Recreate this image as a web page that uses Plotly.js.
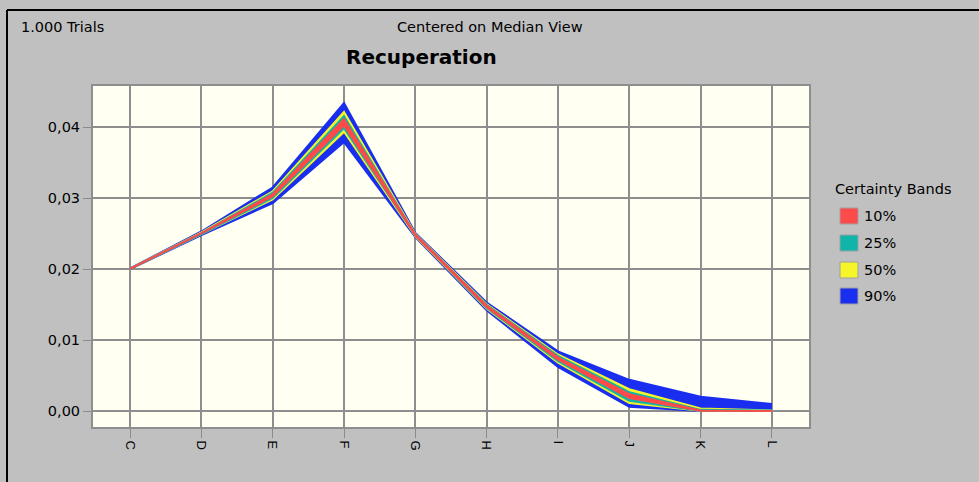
<!DOCTYPE html>
<html>
<head>
<meta charset="utf-8">
<script src="https://cdn.plot.ly/plotly-3.0.1.min.js"></script>
<style>
html,body{margin:0;padding:0;background:#c0c0c0;}
#chart{width:979px;height:482px;}
</style>
</head>
<body>
<div id="chart"></div>
<script>
// Categories (x tick labels, truncated in the original)
var categories = ["C", "D", "E", "F", "G", "H", "I", "J", "K", "L"];
// Certainty band bounds (lower / upper) per category
var band90Low  = [0.0200, 0.0248, 0.0293, 0.0379, 0.0245, 0.0142, 0.0062, 0.0006, 0.0000, 0.0000];
var band90High = [0.0201, 0.0253, 0.0315, 0.0434, 0.0251, 0.0153, 0.0084, 0.0044, 0.0020, 0.0010];
var band50Low  = [0.0200, 0.0249, 0.0298, 0.0393, 0.0246, 0.0144, 0.0068, 0.0011, 0.0000, 0.0000];
var band50High = [0.0201, 0.0252, 0.0310, 0.0422, 0.0250, 0.0151, 0.0080, 0.0031, 0.0004, 0.0001];
var band25Low  = [0.0200, 0.0249, 0.0300, 0.0398, 0.0247, 0.0145, 0.0070, 0.0014, 0.0000, 0.0000];
var band25High = [0.0201, 0.0251, 0.0308, 0.0416, 0.0249, 0.0150, 0.0078, 0.0027, 0.0002, 0.0001];
var band10Low  = [0.0200, 0.0250, 0.0302, 0.0402, 0.0247, 0.0146, 0.0072, 0.0018, 0.0000, 0.0000];
var band10High = [0.0201, 0.0251, 0.0306, 0.0412, 0.0249, 0.0149, 0.0076, 0.0024, 0.0001, 0.0000];
var bandNames = ["10%", "25%", "50%", "90%"];
var bandColors = ["#ff4a4a", "#0fb5a8", "#f5f52a", "#1a2ef0"];
var legendTitle = "Certainty Bands";

var xIdx = categories.map(function(c, i){ return i; });

function bandPair(low, high, color, w) {
  return [
    {x: xIdx, y: low, type: "scatter", mode: "lines",
     line: {color: color, width: w}, showlegend: false, hoverinfo: "skip"},
    {x: xIdx, y: high, type: "scatter", mode: "lines", fill: "tonexty",
     fillcolor: color, line: {color: color, width: w}, showlegend: false, hoverinfo: "skip"}
  ];
}

var traces = [];
traces = traces.concat(bandPair(band90Low, band90High, bandColors[3], 2));
traces = traces.concat(bandPair(band50Low, band50High, bandColors[2], 1.5));
traces = traces.concat(bandPair(band25Low, band25High, bandColors[1], 1.5));
traces = traces.concat(bandPair(band10Low, band10High, bandColors[0], 1.5));

var fontFam = "DejaVu Sans, Liberation Sans, Arial, sans-serif";
var axFam = "Liberation Sans, Arial, sans-serif";
var L = 93, R = 809, T = 86, B = 427, W = 979, H = 482;
function px(x){ return (x - L) / (R - L); }
function py(y){ return (B - y) / (B - T); }

var annotations = [
  {text: "1.000 Trials", xref: "paper", yref: "paper", x: px(19), y: py(27),
   xanchor: "left", yanchor: "middle", showarrow: false, font: {size: 14.5, family: fontFam}},
  {text: "Centered on Median View", xref: "paper", yref: "paper", x: px(490), y: py(27),
   xanchor: "center", yanchor: "middle", showarrow: false, font: {size: 14.5, family: fontFam}},
  {text: "<b>Recuperation</b>", xref: "paper", yref: "paper", x: px(421), y: py(57),
   xanchor: "center", yanchor: "middle", showarrow: false, font: {size: 20, family: fontFam}},
  {text: legendTitle, xref: "paper", yref: "paper", x: px(833), y: py(189),
   xanchor: "left", yanchor: "middle", showarrow: false, font: {size: 14.5, family: fontFam}}
];
var shapes = [
  {type: "line", xref: "paper", yref: "paper", x0: px(7), x1: px(7), y0: py(10), y1: py(482),
   line: {color: "#000", width: 2}},
  {type: "line", xref: "paper", yref: "paper", x0: px(7), x1: px(979), y0: py(10), y1: py(10),
   line: {color: "#000", width: 2}}
];
var legendCenters = [216, 243, 270, 296];
bandNames.forEach(function(n, i){
  var cy = legendCenters[i];
  shapes.push({type: "rect", xref: "paper", yref: "paper",
    x0: px(840), x1: px(858), y0: py(cy - 8), y1: py(cy + 8),
    fillcolor: bandColors[i], line: {color: "#a0a0a0", width: 1}});
  annotations.push({text: n, xref: "paper", yref: "paper", x: px(862), y: py(cy),
    xanchor: "left", yanchor: "middle", showarrow: false, font: {size: 14.5, family: fontFam}});
});

var layout = {
  width: W, height: H,
  paper_bgcolor: "#c0c0c0",
  plot_bgcolor: "#fffff2",
  margin: {l: L, r: W - R, t: T, b: H - B, pad: 0},
  separators: ",.",
  font: {family: fontFam, size: 13, color: "#000"},
  showlegend: false,
  xaxis: {
    range: [-0.52, 9.52],
    tickmode: "array", tickvals: xIdx, ticktext: categories,
    tickangle: 90, ticks: "outside", ticklen: 9, tickcolor: "#8a8a8a", tickwidth: 1,
    showgrid: true, gridcolor: "#8e8e8e", gridwidth: 2,
    zeroline: false, showline: true, mirror: true, linecolor: "#8e8e8e", linewidth: 2,
    tickfont: {size: 13, family: axFam}
  },
  yaxis: {
    range: [-0.00225, 0.0458],
    tickvals: [0, 0.01, 0.02, 0.03, 0.04], tickformat: ".2f",
    ticks: "outside", ticklen: 8, tickcolor: "#8a8a8a", tickwidth: 1,
    showgrid: true, gridcolor: "#8e8e8e", gridwidth: 2,
    zeroline: false, showline: true, mirror: true, linecolor: "#8e8e8e", linewidth: 2,
    tickfont: {size: 14.5, family: fontFam}
  },
  annotations: annotations,
  shapes: shapes
};

Plotly.newPlot("chart", traces, layout, {staticPlot: true, displayModeBar: false});
</script>
</body>
</html>
